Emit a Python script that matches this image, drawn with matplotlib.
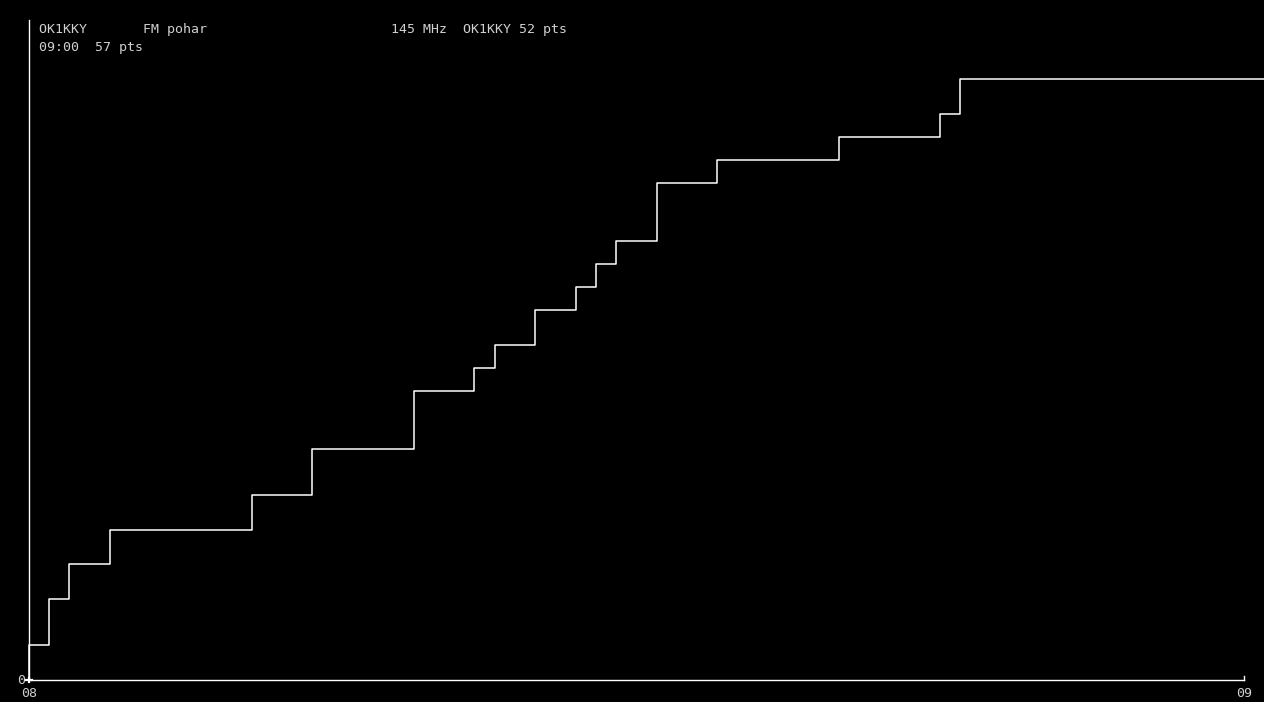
import matplotlib.pyplot as plt

# minutes after 08:00 when the score changed, and the running score
minutes = [0, 0, 1, 2, 4, 11, 14, 19, 22, 23, 25, 27, 28, 29, 31, 34, 40, 45, 46, 61]
points = [0, 3, 7, 10, 13, 16, 20, 25, 27, 29, 32, 34, 36, 38, 43, 45, 47, 49, 52, 52]
hour_labels = ['08', '09']
hour_ticks = [0, 60]
header1 = 'OK1KKY       FM pohar                       145 MHz  OK1KKY 52 pts'
header2 = '09:00  57 pts'

W, H = 1264, 702
fig = plt.figure(figsize=(W / 100, H / 100), dpi=100, facecolor='black')
ax = fig.add_axes([29 / W, 1 - 680 / H, 1 - 29 / W, 660 / H])
ax.set_facecolor('black')

ax.step(minutes, points, where='post', color='white', lw=1.1, clip_on=False)
ax.set_xlim(0, 61)
ax.set_ylim(0, 57.1)

for s in ['top', 'right', 'bottom']:
    ax.spines[s].set_visible(False)
ax.spines['left'].set_color('white')
ax.spines['left'].set_linewidth(1.0)
ax.set_xticks([])
ax.set_yticks([])

# x axis only reaches 09:00
ax.plot([0, 60], [0, 0], color='white', lw=1.0, clip_on=False)
ax.plot([60, 60], [0, 0.35], color='white', lw=1.0, clip_on=False)
ax.plot([-0.15, 0.15], [0, 0], color='white', lw=1.6, clip_on=False)
ax.plot([0, 0], [-0.2, 0.2], color='white', lw=1.6, clip_on=False)

mono = 'DejaVu Sans Mono'
grey = '#d0d0d0'
ax.text(-0.2, 0, '0', color=grey, family=mono, fontsize=9.5, ha='right', va='center')
for t, lab in zip(hour_ticks, hour_labels):
    ax.text(t, -0.6, lab, color=grey, family=mono, fontsize=9.5, ha='center', va='top')

fig.text(39 / W, 1 - 30 / H, header1, color=grey, family=mono, fontsize=9.5, va='center')
fig.text(39 / W, 1 - 48 / H, header2, color=grey, family=mono, fontsize=9.5, va='center')

fig.savefig('out.png', dpi=100, facecolor='black')
